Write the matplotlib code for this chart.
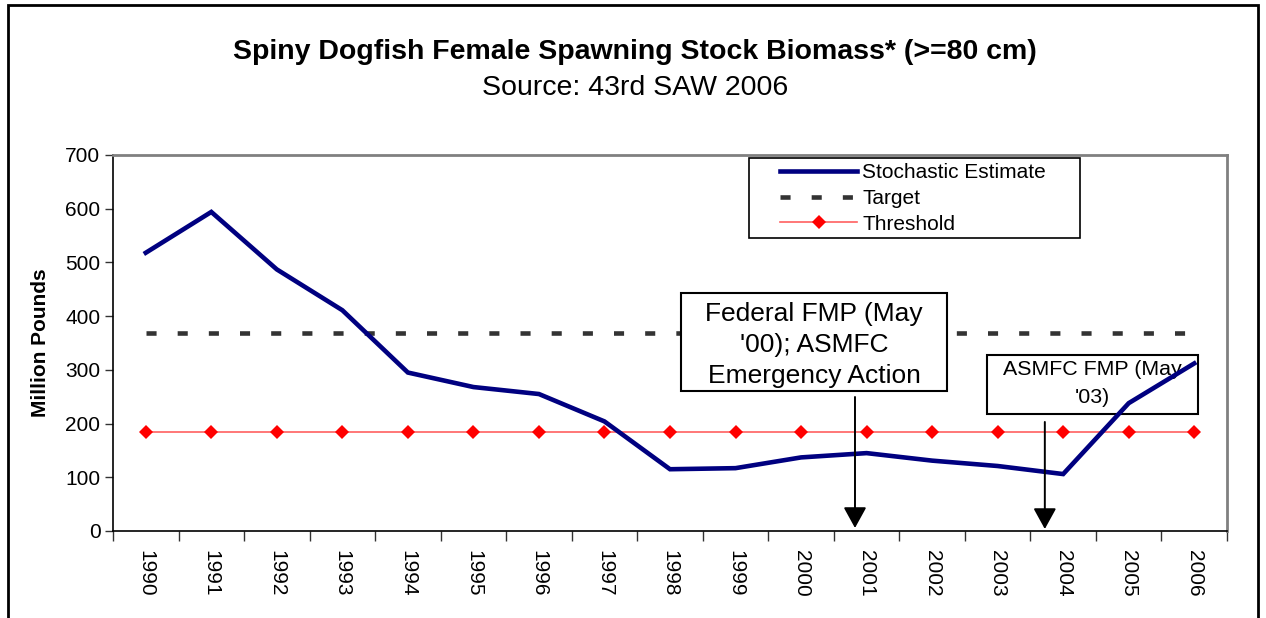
import numpy as np
import matplotlib
matplotlib.use("Agg")
import matplotlib.pyplot as plt
from matplotlib.patches import Rectangle

years = [str(y) for y in range(1990, 2007)]
stochastic = [518, 594, 487, 411, 295, 268, 255, 204, 115, 117, 137, 145, 131, 121, 106, 238, 312]
target_value = 369
threshold_value = 185
target = [target_value] * len(years)
threshold = [threshold_value] * len(years)

title = "Spiny Dogfish Female Spawning Stock Biomass* (>=80 cm)"
subtitle = "Source: 43rd SAW 2006"
ylabel = "Million Pounds"
legend_labels = ["Stochastic Estimate", "Target", "Threshold"]
note1 = "Federal FMP (May\n'00); ASMFC\nEmergency Action"
note2 = "ASMFC FMP (May\n'03)"

plt.rcParams['font.family'] = ['Liberation Sans', 'DejaVu Sans']

W, H = 1266, 618
fig = plt.figure(figsize=(W / 100, H / 100), dpi=100)
fig.patch.set_facecolor('white')

def fx(px):
    return px / W

def fy(py):
    return 1 - py / H

# figure border (bottom edge off-canvas)
fig.patches.append(Rectangle((fx(8), -0.1), fx(1258) - fx(8), fy(5) + 0.1,
                             transform=fig.transFigure, fill=False,
                             edgecolor='black', linewidth=2.0))

ax = fig.add_axes([fx(113), fy(531), fx(1227) - fx(113), fy(155) - fy(531)])
x = np.arange(len(years))

ax.plot(x, target, color='#333333', linewidth=3.3, dashes=(2.2, 4.6),
        solid_capstyle='butt', dash_capstyle='butt', zorder=2, label=legend_labels[1])
ax.plot(x, threshold, color='#ff6060', linewidth=1.2, marker='D', markersize=7,
        markeredgewidth=0, markerfacecolor='#ff0000', zorder=3.5, label=legend_labels[2])
ax.plot(x, stochastic, color='#000080', linewidth=3.3, solid_joinstyle='miter',
        zorder=4, label=legend_labels[0])

ax.set_xlim(-0.5, len(years) - 0.5)
ax.set_ylim(0, 700)
ax.set_yticks(np.arange(0, 701, 100))
ax.set_xticks(np.arange(-0.5, len(years), 1.0))
ax.set_xticklabels([])
ax.set_xticks(x, minor=True)
ax.set_xticklabels(years, minor=True, rotation=270, fontsize=15)
ax.tick_params(axis='x', which='major', length=7, width=1, color='#333333', direction='out')
ax.tick_params(axis='x', which='minor', length=0, pad=13.5)
ax.tick_params(axis='y', length=6, width=1, color='#333333', labelsize=15, pad=3)

for s in ['left', 'bottom']:
    ax.spines[s].set_color('black')
    ax.spines[s].set_linewidth(1.2)
for s in ['top', 'right']:
    ax.spines[s].set_color('#808080')
    ax.spines[s].set_linewidth(2.0)

ax.set_ylabel(ylabel, fontsize=15, fontweight='bold', labelpad=11)

# annotation boxes
ax.add_patch(Rectangle((8.168, 260.7), 12.227 - 8.168, 443.1 - 260.7,
                       facecolor='white', edgecolor='black', linewidth=1.5, zorder=3))
ax.text(10.197, 347, note1, ha='center', va='center', fontsize=19,
        linespacing=1.37, zorder=3.1)
ax.add_patch(Rectangle((12.837, 217.8), 16.057 - 12.837, 327.7 - 217.8,
                       facecolor='white', edgecolor='black', linewidth=1.5, zorder=3))
ax.text(14.44, 275, note2, ha='center', va='center', fontsize=15.4,
        linespacing=1.58, zorder=3.1)

arrow_kw = dict(arrowstyle='-|>,head_length=0.4,head_width=0.22', color='black',
                lw=1.4, mutation_scale=32, shrinkA=0, shrinkB=0)
ax.annotate('', xy=(10.823, 5.6), xytext=(10.823, 249.5), arrowprops=arrow_kw, zorder=5)
ax.annotate('', xy=(13.72, 3.7), xytext=(13.72, 203), arrowprops=arrow_kw, zorder=5)

# legend
frame = Rectangle((fx(749), fy(238)), fx(1080) - fx(749), fy(158) - fy(238),
                  transform=fig.transFigure, facecolor='white', edgecolor='black',
                  linewidth=1.2, zorder=6)
ax.add_artist(frame)
frame.set_clip_on(False)
handles, labels = ax.get_legend_handles_labels()
order = [labels.index(l) for l in legend_labels]
leg = ax.legend([handles[i] for i in order], [labels[i] for i in order],
                loc='center left', bbox_to_anchor=(fx(780), fy(198.5)),
                bbox_transform=fig.transFigure, frameon=False, fontsize=15,
                handlelength=3.7, handletextpad=0.25, labelspacing=0.32,
                borderpad=0, borderaxespad=0)
leg.set_zorder(7)

fig.text(fx(635), fy(52), title, ha='center', va='center', fontsize=20.5, fontweight='bold')
fig.text(fx(635), fy(88), subtitle, ha='center', va='center', fontsize=20.5)

fig.savefig('out.png', dpi=100)
